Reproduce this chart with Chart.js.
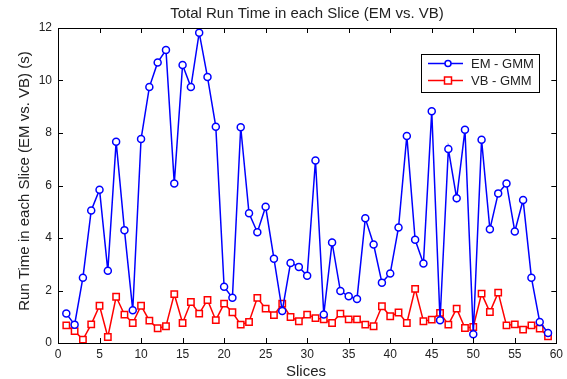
<!DOCTYPE html>
<html>
<head>
<meta charset="utf-8">
<script src="https://cdn.jsdelivr.net/npm/chart.js@4/dist/chart.umd.min.js"></script>
<style>
  html, body { margin: 0; padding: 0; background: #fff; }
  #wrap { width: 567px; height: 379px; position: relative; }
</style>
</head>
<body>
<div id="wrap"><canvas id="chart" width="567" height="379"></canvas></div>
<script>
// data
const slices = [1, 2, 3, 4, 5, 6, 7, 8, 9, 10, 11, 12, 13, 14, 15, 16, 17, 18, 19, 20,
    21, 22, 23, 24, 25, 26, 27, 28, 29, 30, 31, 32, 33, 34, 35, 36, 37, 38, 39, 40,
    41, 42, 43, 44, 45, 46, 47, 48, 49, 50, 51, 52, 53, 54, 55, 56, 57, 58, 59];

const emGmm = [1.12, 0.70, 2.49, 5.05, 5.84, 2.75, 7.67, 4.30, 1.25, 7.77,
    9.75, 10.69, 11.16, 6.08, 10.59, 9.75, 11.82, 10.13, 8.24, 2.14,
    1.72, 8.22, 4.94, 4.22, 5.19, 3.21, 1.22, 3.05, 2.90, 2.56,
    6.95, 1.09, 3.83, 1.98, 1.78, 1.68, 4.75, 3.75, 2.30, 2.65,
    4.40, 7.89, 3.93, 3.03, 8.83, 0.87, 7.39, 5.51, 8.12, 0.33,
    7.74, 4.33, 5.70, 6.08, 4.25, 5.45, 2.49, 0.80, 0.38];

const vbGmm = [0.67, 0.45, 0.13, 0.71, 1.42, 0.23, 1.76, 1.08, 0.76, 1.42,
    0.85, 0.56, 0.64, 1.86, 0.76, 1.56, 1.12, 1.64, 0.87, 1.50,
    1.17, 0.70, 0.80, 1.72, 1.31, 1.06, 1.50, 0.99, 0.83, 1.08,
    0.95, 0.90, 0.76, 1.12, 0.90, 0.90, 0.70, 0.64, 1.40, 1.02,
    1.16, 0.76, 2.06, 0.83, 0.89, 1.15, 0.70, 1.31, 0.57, 0.61,
    1.88, 1.18, 1.92, 0.67, 0.71, 0.51, 0.67, 0.55, 0.25];

const seriesNames = ['EM - GMM', 'VB - GMM'];
const xTicks = [0, 5, 10, 15, 20, 25, 30, 35, 40, 45, 50, 55, 60];
const yTicks = [0, 2, 4, 6, 8, 10, 12];

const FONT = 'Arial, "Liberation Sans", Helvetica, sans-serif';
const TEXT = '#222';

function toPoints(values) {
    return slices.map((s, i) => ({ x: s, y: values[i] }));
}

// box, inward ticks, titles and legend drawn like the matlab figure
const matlabFrame = {
    id: 'matlabFrame',
    afterDatasetsDraw(chart) {
        const ctx = chart.ctx;
        const area = chart.chartArea;
        const xs = chart.scales.x;
        const ys = chart.scales.y;
        const len = 5;

        ctx.save();
        ctx.strokeStyle = '#000';
        ctx.lineWidth = 1;
        ctx.beginPath();
        xTicks.forEach(v => {
            const px = Math.round(xs.getPixelForValue(v)) + 0.5;
            ctx.moveTo(px, area.bottom);
            ctx.lineTo(px, area.bottom - len);
            ctx.moveTo(px, area.top);
            ctx.lineTo(px, area.top + len);
        });
        yTicks.forEach(v => {
            const py = Math.round(ys.getPixelForValue(v)) + 0.5;
            ctx.moveTo(area.left, py);
            ctx.lineTo(area.left + len, py);
            ctx.moveTo(area.right, py);
            ctx.lineTo(area.right - len, py);
        });
        ctx.stroke();
        ctx.strokeRect(Math.round(area.left) + 0.5, Math.round(area.top) + 0.5,
            Math.round(area.right - area.left), Math.round(area.bottom - area.top));

        // title and axis labels
        ctx.fillStyle = TEXT;
        ctx.font = '15px ' + FONT;
        ctx.textAlign = 'center';
        ctx.textBaseline = 'middle';
        ctx.fillText('Total Run Time in each Slice (EM vs. VB)', 307, 14);
        ctx.fillText('Slices', 306, 372);
        ctx.save();
        ctx.translate(25, 181);
        ctx.rotate(-Math.PI / 2);
        ctx.fillText('Run Time in each Slice (EM vs. VB) (s)', 0, 0);
        ctx.restore();

        // legend
        const lx = 421, ly = 54, lw = 118, lh = 38;
        ctx.fillStyle = '#fff';
        ctx.fillRect(lx, ly, lw, lh);
        ctx.strokeStyle = '#000';
        ctx.lineWidth = 1;
        ctx.strokeRect(lx + 0.5, ly + 0.5, lw, lh);
        chart.data.datasets.forEach((ds, i) => {
            const y = ly + 9.5 + i * 17;
            ctx.strokeStyle = ds.borderColor;
            ctx.lineWidth = 1.5;
            ctx.beginPath();
            ctx.moveTo(lx + 7, y);
            ctx.lineTo(lx + 42, y);
            ctx.stroke();
            const mx = lx + 27;
            ctx.beginPath();
            if (ds.pointStyle === 'rect') {
                ctx.rect(mx - 3.5, y - 3.5, 7, 7);
            } else {
                ctx.arc(mx, y, 3, 0, Math.PI * 2);
            }
            ctx.fillStyle = '#fff';
            ctx.fill();
            ctx.stroke();
            ctx.fillStyle = TEXT;
            ctx.font = '13px ' + FONT;
            ctx.textAlign = 'left';
            ctx.fillText(ds.label, lx + 50, y + 1);
        });
        ctx.restore();
    }
};

new Chart(document.getElementById('chart'), {
    type: 'line',
    data: {
        datasets: [{
            label: seriesNames[0],
            data: toPoints(emGmm),
            borderColor: '#0000ff',
            backgroundColor: '#fff',
            borderWidth: 1.5,
            pointStyle: 'circle',
            pointRadius: 3.5,
            pointBorderWidth: 1.5,
            tension: 0
        }, {
            label: seriesNames[1],
            data: toPoints(vbGmm),
            borderColor: '#ff0000',
            backgroundColor: '#fff',
            borderWidth: 1.5,
            pointStyle: 'rect',
            pointRadius: 4.5,
            pointBorderWidth: 1.5,
            tension: 0
        }]
    },
    options: {
        responsive: false,
        animation: false,
        devicePixelRatio: 1,
        layout: { padding: { top: 28, right: 10, left: 0, bottom: 0 } },
        plugins: {
            legend: { display: false },
            tooltip: { enabled: false }
        },
        scales: {
            x: {
                type: 'linear',
                min: 0,
                max: 60,
                afterFit: scale => { scale.height = 36; },
                afterBuildTicks: scale => { scale.ticks = xTicks.map(v => ({ value: v })); },
                grid: { display: false, drawTicks: false },
                border: { display: false },
                ticks: { color: TEXT, padding: 4, font: { family: FONT, size: 12 }, maxRotation: 0 }
            },
            y: {
                min: 0,
                max: 12,
                afterFit: scale => { scale.width = 58; },
                afterBuildTicks: scale => { scale.ticks = yTicks.map(v => ({ value: v })); },
                grid: { display: false, drawTicks: false },
                border: { display: false },
                ticks: { color: TEXT, padding: 6, font: { family: FONT, size: 12 } }
            }
        }
    },
    plugins: [matlabFrame]
});
</script>
</body>
</html>
